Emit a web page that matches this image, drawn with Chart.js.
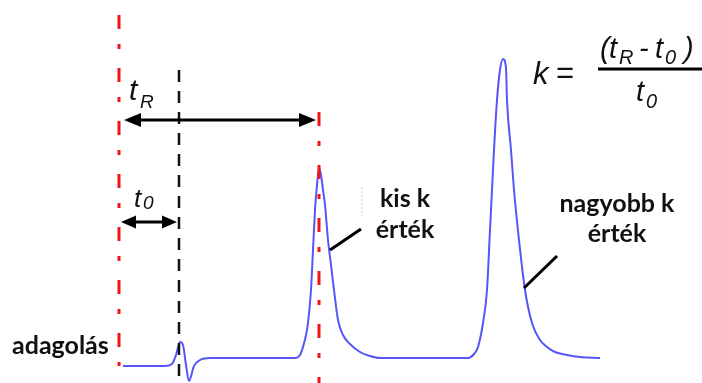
<!DOCTYPE html>
<html>
<head>
<meta charset="utf-8">
<script src="https://cdn.jsdelivr.net/npm/chart.js@4/dist/chart.umd.min.js"></script>
<style>
  html, body { margin: 0; padding: 0; background: #fff; }
  #wrap { width: 702px; height: 383px; position: relative; }
</style>
</head>
<body>
<div id="wrap"><canvas id="c"></canvas></div>
<script>
// Chromatogram trace: time after injection (s) and detector signal (mAU)
const timeS = [4, 46, 53, 57, 61, 64, 67, 70, 75, 81, 91,
  176, 181, 184, 187, 189, 192, 194, 196, 198, 200, 202, 204, 206, 209, 212, 215, 219, 224, 231, 241, 251, 261,
  349, 355, 359, 364, 368, 371, 373, 375, 378, 381, 384, 387, 388, 392, 395, 400, 406, 413, 421, 428, 436, 448, 461, 481];
const signal = [-8, -8, -6, 3, 16, 13, -7, -23, -8, -2, 0,
  0, 3, 11, 23, 35, 68, 108, 148, 173, 190, 183, 168, 153, 118, 93, 68, 38, 23, 14, 6, 2, 0,
  0, 4, 11, 35, 68, 128, 168, 208, 258, 288, 299, 290, 258, 208, 168, 118, 68, 35, 18, 11, 6, 3, 1, 0];

// Characteristic times (s): injection, dead time t0, retention time tR of the first peak
const injectionTime = 0;
const deadTime = 60;
const retentionTime = 200;

// Vertical marker extents (signal units): [top, bottom]
const injectionSpan = [343, -8];
const deadSpan = [288, -25];
const retentionSpan = [246, -25];

// Signal levels of the two distance arrows
const tRArrowLevel = 238;
const t0ArrowLevel = 136;

// Leader lines from the peaks to their labels: [t1, s1, t2, s2]
const smallKLeader = [211, 108, 242, 129];
const largeKLeader = [405, 70, 438, 102];

const trace = timeS.map((t, i) => ({ x: t, y: signal[i] }));
const vline = (t, span) => [{ x: t, y: span[0] }, { x: t, y: span[1] }];

const RED = 'rgb(240,20,20)';
const BLUE = 'rgb(85,85,250)';

const overlay = {
  id: 'overlay',
  afterDatasetsDraw(chart) {
    const { ctx, scales: { x, y } } = chart;
    const X = v => x.getPixelForValue(v);
    const Y = v => y.getPixelForValue(v);

    function arrow(x1, x2, yy, head, half) {
      ctx.save();
      ctx.strokeStyle = '#000';
      ctx.fillStyle = '#000';
      ctx.lineWidth = 3;
      ctx.beginPath();
      ctx.moveTo(x1 + head - 2, yy);
      ctx.lineTo(x2 - head + 2, yy);
      ctx.stroke();
      ctx.beginPath();
      ctx.moveTo(x1, yy);
      ctx.lineTo(x1 + head, yy - half);
      ctx.lineTo(x1 + head, yy + half);
      ctx.closePath();
      ctx.fill();
      ctx.beginPath();
      ctx.moveTo(x2, yy);
      ctx.lineTo(x2 - head, yy - half);
      ctx.lineTo(x2 - head, yy + half);
      ctx.closePath();
      ctx.fill();
      ctx.restore();
    }
    arrow(X(injectionTime) + 5, X(retentionTime) - 3, Y(tRArrowLevel), 17, 7);
    arrow(X(injectionTime) + 2, X(deadTime) - 2, Y(t0ArrowLevel), 15, 6.5);

    function leader(l) {
      ctx.save();
      ctx.strokeStyle = '#000';
      ctx.lineWidth = 3;
      ctx.beginPath();
      ctx.moveTo(X(l[0]), Y(l[1]));
      ctx.lineTo(X(l[2]), Y(l[3]));
      ctx.stroke();
      ctx.restore();
    }
    leader(smallKLeader);
    leader(largeKLeader);
  },
  afterDraw(chart) {
    const { ctx } = chart;
    ctx.save();
    ctx.fillStyle = '#111';
    ctx.textBaseline = 'alphabetic';
    ctx.textAlign = 'left';

    const it = s => 'italic ' + s + 'px "Liberation Sans", Arial, sans-serif';
    const glyph = (txt, gx, gy, size, italic = true) => {
      ctx.font = italic ? it(size) : size + 'px "Liberation Sans", Arial, sans-serif';
      ctx.fillText(txt, gx, gy);
    };

    // symbols on the arrows
    glyph('t', 129, 100, 30);
    glyph('R', 140, 108, 19);
    glyph('t', 134, 207, 26);
    glyph('0', 143, 209, 19);

    // k = (tR - t0) / t0
    glyph('k', 533, 84, 31);
    glyph('=', 556, 83, 31, false);

    glyph('(', 600, 58, 29);
    glyph('t', 609, 58, 29);
    glyph('R', 619, 64, 20);
    glyph('-', 639, 58, 29);
    glyph('t', 655, 58, 29);
    glyph('0', 665, 64, 20);
    glyph(')', 684, 58, 29);

    ctx.fillStyle = '#000';
    ctx.fillRect(598, 67.5, 104, 3);
    ctx.fillStyle = '#111';
    glyph('t', 636, 101, 29);
    glyph('0', 646, 108, 20);

    // bold labels
    ctx.font = 'bold 25px Lato, "Open Sans", sans-serif';
    ctx.fillText('adagolás', 12, 354);
    ctx.textAlign = 'center';
    ctx.fillText('kis k', 405, 207);
    ctx.fillText('érték', 405, 238);
    ctx.fillText('nagyobb k', 617, 212);
    ctx.fillText('érték', 617, 242);

    // faint guide next to the first label
    ctx.strokeStyle = 'rgba(140,140,140,0.45)';
    ctx.lineWidth = 1;
    ctx.setLineDash([2, 2]);
    ctx.beginPath();
    ctx.moveTo(362, 187);
    ctx.lineTo(362, 216);
    ctx.stroke();
    ctx.restore();
  }
};

new Chart(document.getElementById('c'), {
  type: 'line',
  data: {
    datasets: [
      { data: vline(injectionTime, injectionSpan), borderColor: RED, borderWidth: 3, borderDash: [14, 15, 5, 19] },
      { data: vline(retentionTime, retentionSpan), borderColor: RED, borderWidth: 3, borderDash: [14, 15, 5, 19] },
      { data: vline(deadTime, deadSpan), borderColor: '#111', borderWidth: 2.5, borderDash: [12, 9] },
      { data: trace, borderColor: BLUE, borderWidth: 2, cubicInterpolationMode: 'monotone' }
    ]
  },
  options: {
    animation: false,
    responsive: true,
    maintainAspectRatio: false,
    layout: { padding: 0 },
    elements: { point: { radius: 0, hoverRadius: 0 }, line: { fill: false } },
    plugins: { legend: { display: false }, tooltip: { enabled: false } },
    events: [],
    scales: {
      x: { type: 'linear', display: false, min: -119, max: 583 },
      y: { type: 'linear', display: false, min: -25, max: 358 }
    }
  },
  plugins: [overlay]
});
</script>
</body>
</html>
